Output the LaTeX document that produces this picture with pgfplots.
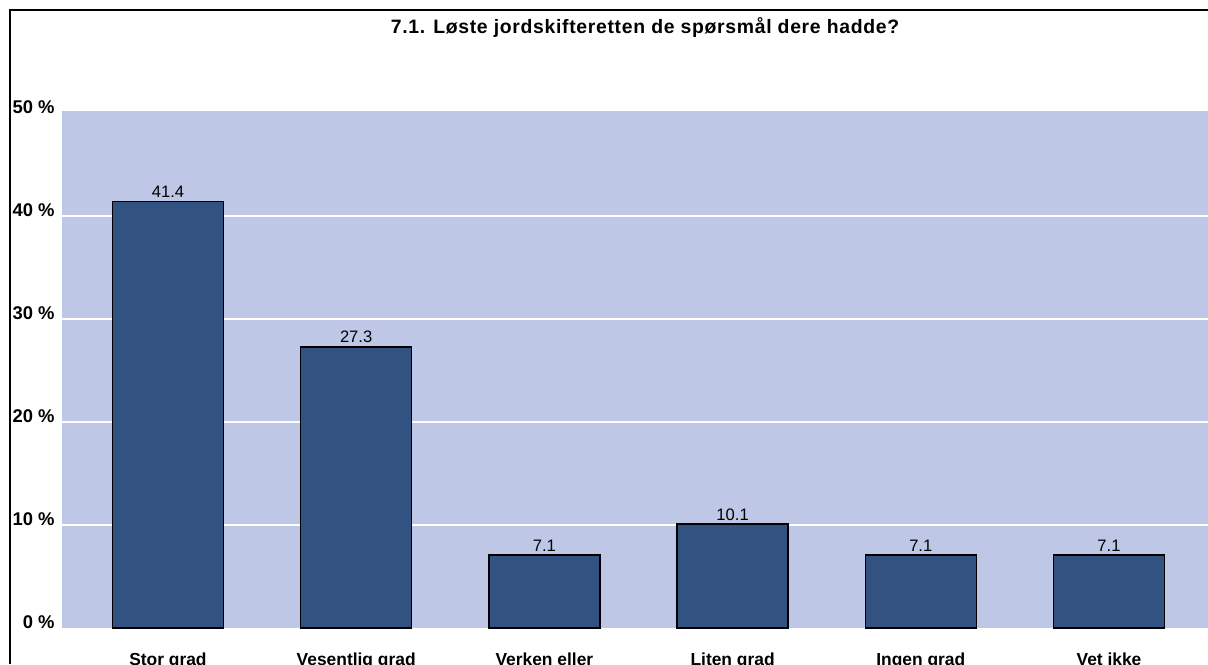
\documentclass[border=0pt]{standalone}
\usepackage{fontspec}
\setmainfont{Liberation Sans}
\usepackage{pgfplots}
\pgfplotsset{compat=1.18}
\definecolor{plotBg}{HTML}{BFC7E6}
\definecolor{barBlue}{HTML}{325282}

\begin{document}
\begin{tikzpicture}
% page = 1208x664 px at 0.5pt per px
\path[use as bounding box] (0,0) rectangle (604pt,332pt);
\clip (0,0) rectangle (604pt,332pt);
\draw[black, line width=1pt] (5pt,0) -- (5pt,327pt) -- (604pt,327pt);
\node[font=\fontsize{9.7}{11}\selectfont\bfseries\addfontfeature{LetterSpace=3.5}] at (322.5pt,318pt)
  {7.1. Løste jordskifteretten de spørsmål dere hadde?};
\begin{axis}[
    at={(31pt,18pt)}, anchor=south west,
    scale only axis,
    width=573pt, height=258.5pt,
    xmin=-0.563, xmax=5.526,
    ymin=0, ymax=50.19,
    axis line style={draw=none},
    axis background/.style={fill=plotBg},
    xtick={0,1,2,3,4,5},
    xticklabels={Stor grad,Vesentlig grad,Verken eller,Liten grad,Ingen grad,Vet ikke},
    xticklabel style={font=\fontsize{8.7}{9}\selectfont\bfseries, anchor=base, inner sep=0pt, yshift=-18.5pt},
    ytick={10,20,30,40},
    yticklabels={10 \%,20 \%,30 \%,40 \%},
    extra y ticks={0,50},
    extra y tick labels={0 \%,50 \%},
    extra y tick style={grid=none},
    yticklabel style={font=\fontsize{9.2}{10}\selectfont\bfseries, anchor=east, inner sep=0pt, xshift=-3.5pt, yshift=3pt},
    major tick length=0pt,
    tick style={draw=none},
    ymajorgrids,
    grid style={white, line width=1pt},
    clip=false,
]
\addplot[ybar, bar width=55.5pt, fill=barBlue, draw=black, line width=0.75pt,
    nodes near coords,
    nodes near coords style={font=\fontsize{8.3}{9}\selectfont, anchor=south, inner sep=0pt, yshift=1.5pt,
      /pgf/number format/fixed, /pgf/number format/precision=1, /pgf/number format/fixed zerofill,
      /pgf/number format/assume math mode=true}]
  coordinates {(0,41.4) (1,27.3) (2,7.1) (3,10.1) (4,7.1) (5,7.1)};
\end{axis}
\end{tikzpicture}
\end{document}
